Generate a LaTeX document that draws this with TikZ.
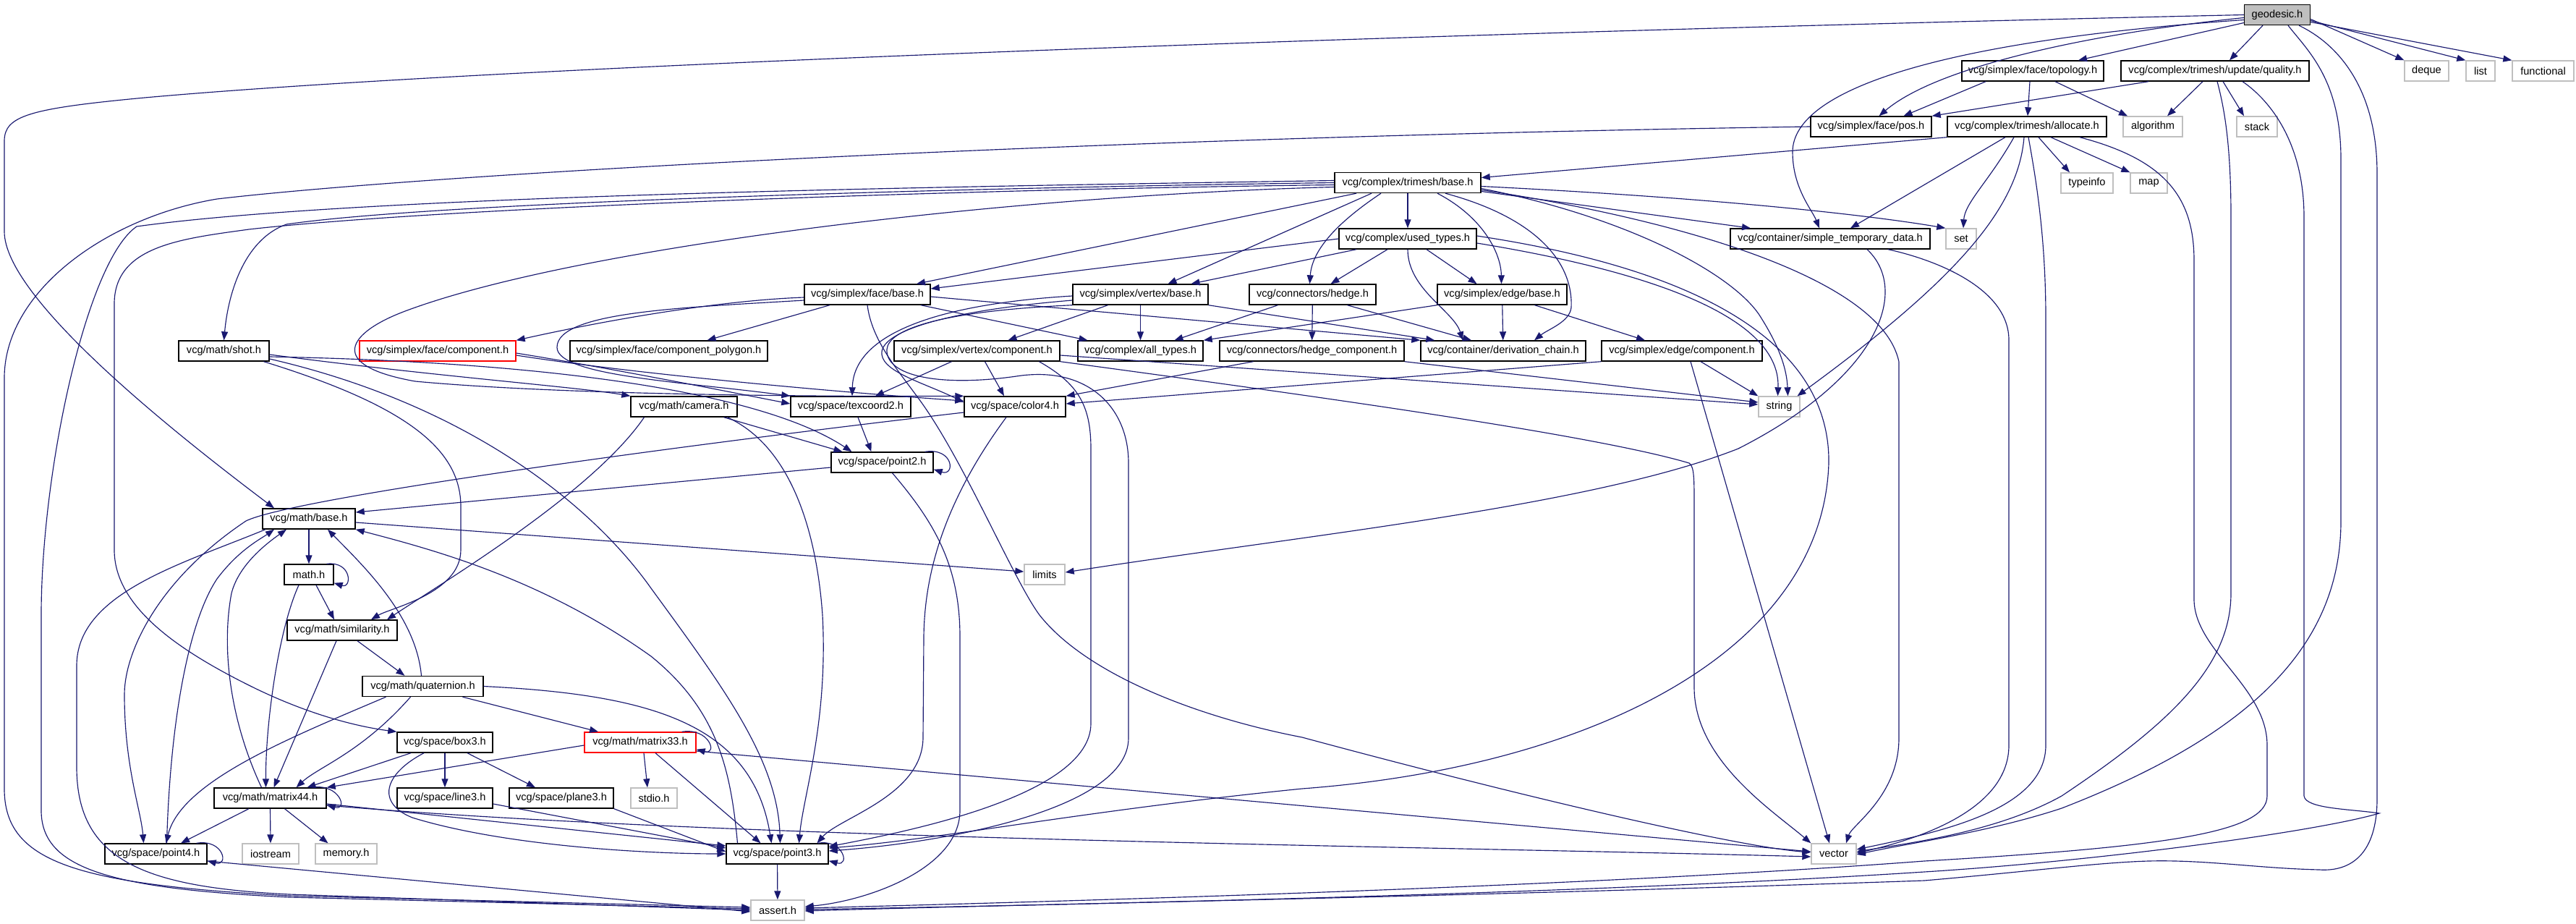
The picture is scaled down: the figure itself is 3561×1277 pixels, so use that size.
\documentclass[tikz,border=0pt]{standalone}
\usepackage{fontspec}
\setmainfont{Liberation Sans}
\usetikzlibrary{arrows.meta}
\definecolor{edgec}{HTML}{191970}
\definecolor{leafc}{HTML}{BFBFBF}
\begin{document}
\begin{tikzpicture}[x=1pt,y=-1pt,
  nbase/.style={rectangle,minimum height=28pt,inner sep=0pt,line width=1.4pt,fill=white,font=\fontsize{14.6pt}{17pt}\selectfont},
  nb/.style={nbase,draw=black},
  lf/.style={nbase,draw=leafc},
  rd/.style={nbase,draw=red},
  rt/.style={nbase,draw=black,fill=leafc},
  e/.style={draw=edgec,line width=1.15pt,-{Triangle[length=12pt,width=9pt]}}
]
\fill[white] (0,0) rectangle (3561,1277);
\useasboundingbox (0,0) rectangle (3561,1277);

\node[rt,minimum width=91pt] (G) at (3148,20.5) {geodesic.h};
\node[nb,minimum width=196pt] (TOP) at (2810,98) {vcg/simplex/face/topology.h};
\node[nb,minimum width=260pt] (QUA) at (3062,98) {vcg/complex/trimesh/update/quality.h};
\node[lf,minimum width=61pt] (DEQ) at (3354.5,98) {deque};
\node[lf,minimum width=40pt] (LST) at (3429,98) {list};
\node[lf,minimum width=85pt] (FUN) at (3515.5,98) {functional};
\node[nb,minimum width=167pt] (POS) at (2586.5,175) {vcg/simplex/face/pos.h};
\node[nb,minimum width=220pt] (ALL) at (2802,175) {vcg/complex/trimesh/allocate.h};
\node[lf,minimum width=82pt] (ALG) at (2976,175) {algorithm};
\node[lf,minimum width=56pt] (STK) at (3120,175) {stack};
\node[nb,minimum width=202pt] (TB) at (1946,252.5) {vcg/complex/trimesh/base.h};
\node[lf,minimum width=72pt] (TI) at (2885,253) {typeinfo};
\node[lf,minimum width=51pt] (MAP) at (2970.5,253) {map};
\node[nb,minimum width=190pt] (UT) at (1946,330) {vcg/complex/used\_types.h};
\node[nb,minimum width=276pt] (STD) at (2530,330) {vcg/container/simple\_temporary\_data.h};
\node[lf,minimum width=42pt] (SET) at (2711,330) {set};
\node[nb,minimum width=174pt] (FB) at (1199,407) {vcg/simplex/face/base.h};
\node[nb,minimum width=187pt] (VB) at (1576.5,407) {vcg/simplex/vertex/base.h};
\node[nb,minimum width=175pt] (HE) at (1814.5,407) {vcg/connectors/hedge.h};
\node[nb,minimum width=179pt] (EB) at (2076.5,407) {vcg/simplex/edge/base.h};
\node[nb,minimum width=125pt] (SHOT) at (309.5,485) {vcg/math/shot.h};
\node[rd,minimum width=216pt] (FC) at (605,485) {vcg/simplex/face/component.h};
\node[nb,minimum width=273pt] (FCP) at (924.5,485) {vcg/simplex/face/component\_polygon.h};
\node[nb,minimum width=229pt] (VC) at (1350.5,485) {vcg/simplex/vertex/component.h};
\node[nb,minimum width=173pt] (AT) at (1576.5,485) {vcg/complex/all\_types.h};
\node[nb,minimum width=255pt] (HC) at (1813.5,485) {vcg/connectors/hedge\_component.h};
\node[nb,minimum width=228pt] (DC) at (2078,485) {vcg/container/derivation\_chain.h};
\node[nb,minimum width=222pt] (EC) at (2325,485) {vcg/simplex/edge/component.h};
\node[nb,minimum width=147pt] (CAM) at (945.5,562) {vcg/math/camera.h};
\node[nb,minimum width=166pt] (TC) at (1176,562) {vcg/space/texcoord2.h};
\node[nb,minimum width=140pt] (C4) at (1403,562) {vcg/space/color4.h};
\node[lf,minimum width=57pt] (STR) at (2459.5,562) {string};
\node[nb,minimum width=141pt] (P2) at (1219.5,639) {vcg/space/point2.h};
\node[nb,minimum width=128pt] (MB) at (427,717) {vcg/math/base.h};
\node[lf,minimum width=56pt] (LIM) at (1444,794) {limits};
\node[nb,minimum width=68pt] (MH) at (427,794) {math.h};
\node[nb,minimum width=152pt] (SIM) at (473,871) {vcg/math/similarity.h};
\node[nb,minimum width=167pt] (QUAT) at (584.5,948.5) {vcg/math/quaternion.h};
\node[nb,minimum width=132pt] (BOX) at (615,1026) {vcg/space/box3.h};
\node[rd,minimum width=154pt] (M33) at (885,1026) {vcg/math/matrix33.h};
\node[nb,minimum width=155pt] (M44) at (373.5,1103) {vcg/math/matrix44.h};
\node[nb,minimum width=132pt] (L3) at (615,1103) {vcg/space/line3.h};
\node[nb,minimum width=144pt] (PL3) at (776,1103) {vcg/space/plane3.h};
\node[lf,minimum width=64pt] (STDIO) at (904,1103) {stdio.h};
\node[nb,minimum width=141pt] (P4) at (215.5,1180) {vcg/space/point4.h};
\node[lf,minimum width=78pt] (IOS) at (374,1180) {iostream};
\node[lf,minimum width=85pt] (MEM) at (478.5,1180) {memory.h};
\node[nb,minimum width=141pt] (P3) at (1074.5,1180) {vcg/space/point3.h};
\node[lf,minimum width=62pt] (VEC) at (2535,1180) {vector};
\node[lf,minimum width=74pt] (AS) at (1075,1258) {assert.h};

% geodesic.h
\draw[e] (G.west) .. controls (2000,45) and (700,90) .. (200,135) .. controls (40,150) and (6,160) .. (6,195) -- (6,320) .. controls (6,410) and (230,590) .. ([xshift=-48pt]MB.north);
\draw[e] ([yshift=-4pt]G.west) .. controls (2900,45) and (2680,90) .. ([xshift=11pt]POS.north);
\draw[e] ([yshift=-7pt]G.west) .. controls (2700,55) and (2478,120) .. (2478,210) .. controls (2478,260) and (2505,290) .. ([xshift=-15pt]STD.north);
\draw[e] ([yshift=-11pt]G.west) -- ([xshift=63pt]TOP.north);
\draw[e] ([xshift=-20pt]G.south) -- ([xshift=20pt]QUA.north);
\draw[e] ([yshift=-6pt]G.east) -- (DEQ.north west);
\draw[e] ([yshift=-8pt]G.east) -- (LST.north west);
\draw[e] ([yshift=-10pt]G.east) -- (FUN.north west);
\draw[e] ([xshift=15pt]G.south) .. controls (3190,70) and (3236,110) .. (3236,220) -- (3236,720) .. controls (3236,900) and (3100,1020) .. (2850,1117) .. controls (2750,1150) and (2640,1165) .. ([yshift=-1pt]VEC.east);
\draw[e] ([xshift=30pt]G.south) .. controls (3230,60) and (3286,120) .. (3286,240) -- (3286,1104) .. controls (3286,1180) and (3250,1205) .. (3206,1202) .. controls (3120,1200) and (3050,1188) .. (2970,1190) .. controls (2900,1192) and (2800,1205) .. (2660,1217) .. controls (2000,1240) and (1400,1250) .. ([yshift=-1pt]AS.east);

% topology.h
\draw[e] ([xshift=-65pt]TOP.south) -- ([xshift=45pt]POS.north);
\draw[e] ([xshift=-4pt]TOP.south) -- ([xshift=1pt]ALL.north);
\draw[e] ([xshift=31pt]TOP.south) -- ([xshift=-35pt]ALG.north);

% quality.h
\draw[e] ([xshift=-92pt]QUA.south) -- (POS.north east);
\draw[e] ([xshift=-17pt]QUA.south) -- ([xshift=20pt]ALG.north);
\draw[e] ([xshift=11pt]QUA.south) -- ([xshift=-18pt]STK.north);
\draw[e] ([xshift=3pt]QUA.south) .. controls (3075,150) and (3084,200) .. (3084,300) -- (3084,820) .. controls (3084,920) and (3000,1000) .. (2850,1100) .. controls (2760,1150) and (2640,1165) .. ([yshift=3pt]VEC.east);
\draw[e] ([xshift=38pt]QUA.south) .. controls (3140,140) and (3185,200) .. (3185,300) -- (3185,1100) .. controls (3187,1118) and (3250,1118) .. (3289,1124) .. controls (3200,1150) and (2900,1190) .. (2660,1205) .. controls (2200,1235) and (1500,1250) .. ([yshift=1pt]AS.east);

% pos.h
\draw[e] (POS.west) .. controls (1500,190) and (600,240) .. (300,275) .. controls (150,300) and (8,400) .. (6,520) -- (6,1090) .. controls (6,1190) and (100,1222) .. (400,1238) -- ([yshift=4pt]AS.west);

% allocate.h
\draw[e] (ALL.south west) -- ([yshift=7pt]TB.east);
\draw[e] ([xshift=-30pt]ALL.south) -- ([xshift=28pt]STD.north);
\draw[e] ([xshift=-18pt]ALL.south) .. controls (2750,250) and (2716,280) .. ([xshift=3pt]SET.north);
\draw[e] ([xshift=-4pt]ALL.south) .. controls (2790,290) and (2700,390) .. ([xshift=25pt]STR.north);
\draw[e] ([xshift=2pt]ALL.south) .. controls (2815,250) and (2828,330) .. (2828,440) -- (2828,1030) .. controls (2828,1120) and (2680,1150) .. ([yshift=6pt]VEC.east);
\draw[e] ([xshift=16pt]ALL.south) -- ([xshift=-24pt]TI.north);
\draw[e] ([xshift=33pt]ALL.south) -- (MAP.north west);
\draw[e] ([xshift=73pt]ALL.south) .. controls (2990,220) and (3033,270) .. (3033,360) -- (3033,830) .. controls (3035,900) and (3134,950) .. (3134,1030) -- (3134,1100) .. controls (3134,1150) and (3000,1170) .. (2660,1190) .. controls (2200,1225) and (1500,1245) .. ([yshift=3pt]AS.east);

% trimesh/base.h
\draw[e] (TB) -- (UT);
\draw[e] ([xshift=-37pt]TB.south) .. controls (1860,300) and (1814,340) .. ([xshift=-4pt]HE.north);
\draw[e] ([xshift=41pt]TB.south) .. controls (2050,300) and (2075,350) .. ([xshift=-1pt]EB.north);
\draw[e] ([yshift=-12pt]TB.east) -- ([xshift=-110pt]STD.north);
\draw[e] ([yshift=-5pt]TB.east) .. controls (2400,275) and (2600,300) .. (SET.north west);
\draw[e] ([xshift=52pt]TB.south) .. controls (2120,300) and (2175,360) .. (2172,425) .. controls (2170,445) and (2140,455) .. ([xshift=43pt]DC.north);
\draw[e] ([yshift=-8pt]TB.east) .. controls (2250,300) and (2400,380) .. (2435,440) .. controls (2460,480) and (2470,510) .. ([xshift=12pt]STR.north);
\draw[e] ([yshift=-10pt]TB.east) .. controls (2300,300) and (2600,380) .. (2625,500) -- (2625,1020) .. controls (2625,1100) and (2560,1140) .. ([xshift=17pt]VEC.north);
\draw[e] ([xshift=-71pt]TB.south) -- ([xshift=68pt]FB.north);
\draw[e] ([xshift=-50pt]TB.south) -- ([xshift=38pt]VB.north);
\draw[e] (TB.west) .. controls (1300,260) and (600,280) .. (396,310) .. controls (340,330) and (316,400) .. (SHOT.north);
\draw[e] ([yshift=-3pt]TB.west) .. controls (1300,262) and (600,288) .. (344,317) .. controls (250,330) and (158,340) .. (158,420) -- (158,760) .. controls (158,840) and (250,900) .. (344,947) .. controls (430,990) and (500,1005) .. (BOX.north west);
\draw[e] ([yshift=3pt]TB.west) .. controls (1300,258) and (500,270) .. (189,313) .. controls (120,360) and (57,650) .. (57,850) -- (57,1120) .. controls (57,1200) and (150,1228) .. (400,1240) -- ([yshift=2pt]AS.west);
\draw[e] ([yshift=-6pt]TB.west) .. controls (1400,270) and (800,340) .. (560,430) .. controls (480,460) and (450,505) .. (574,527) .. controls (800,548) and (1200,548) .. (C4.north west);

% used_types.h
\draw[e] (UT.west) -- ([yshift=8pt]FB.east);
\draw[e] ([xshift=-71pt]UT.south) -- ([xshift=70pt]VB.north);
\draw[e] ([xshift=-28pt]UT.south) -- ([xshift=25pt]HE.north);
\draw[e] ([xshift=26pt]UT.south) -- ([xshift=-35pt]EB.north);
\draw[e] (UT.south) .. controls (1946,400) and (2010,430) .. ([xshift=-56pt]DC.north);
\draw[e] ([yshift=-6pt]UT.east) .. controls (2250,370) and (2462,430) .. ([xshift=-2pt]STR.north);
\draw[e] ([yshift=4pt]UT.east) .. controls (2400,380) and (2530,500) .. (2528,640) .. controls (2520,900) and (2200,1060) .. (1800,1090) .. controls (1500,1120) and (1300,1160) .. ([yshift=8pt]P3.east);

% simple_temporary_data.h
\draw[e] ([xshift=80pt]STD.south) .. controls (2680,360) and (2777,400) .. (2777,470) -- (2777,1030) .. controls (2777,1120) and (2650,1160) .. ([yshift=1pt]VEC.east);
\draw[e] ([xshift=51pt]STD.south) .. controls (2640,400) and (2600,520) .. (2403,620) .. controls (2200,700) and (1800,740) .. ([yshift=3pt]LIM.east);

% face/base.h
\draw[e] ([yshift=-4pt]FB.west) .. controls (1000,415) and (850,440) .. (FC.north east);
\draw[e] ([xshift=-52pt]FB.south) -- ([xshift=53pt]FCP.north);
\draw[e] ([xshift=74pt]FB.south) -- ([xshift=-73pt]AT.north);
\draw[e] ([yshift=-3pt]FB.east) -- (DC.north west);
\draw[e] ([yshift=-8pt]FB.west) .. controls (950,425) and (770,430) .. (770,480) .. controls (770,520) and (950,528) .. (TC.north west);
\draw[e] (FB.south) .. controls (1205,470) and (1240,510) .. (1267,547) .. controls (1330,630) and (1400,800) .. (1437,850) .. controls (1500,930) and (1650,990) .. (1800,1019) .. controls (2100,1100) and (2400,1170) .. ([yshift=2pt]VEC.west);

% face/component.h
\draw[e] ([yshift=-3pt]FC.east) .. controls (850,510) and (1000,540) .. ([yshift=4pt]TC.west);
\draw[e] ([yshift=-6pt]FC.east) .. controls (900,520) and (1200,545) .. ([yshift=8pt]C4.west);

% vertex/base.h
\draw[e] ([xshift=-45pt]VB.south) -- ([xshift=43pt]VC.north);
\draw[e] (VB) -- (AT);
\draw[e] (VB.south east) -- ([xshift=20pt]DC.north west);
\draw[e] ([yshift=-2pt]VB.west) .. controls (1300,420) and (1180,460) .. ([xshift=2pt]TC.north);
\draw[e] ([yshift=-8pt]VB.west) .. controls (1300,430) and (1215,460) .. (1219,490) .. controls (1222,515) and (1280,530) .. ([yshift=6pt]C4.west);
\draw[e] (VB.south west) .. controls (1300,430) and (1228,455) .. (1226,483) .. controls (1224,520) and (1300,535) .. (1405,520) .. controls (1500,505) and (1560,560) .. (1560,640) -- (1560,1020) .. controls (1560,1120) and (1300,1165) .. ([yshift=4pt]P3.east);

% hedge.h, edge/base.h
\draw[e] (HE) -- (HC);
\draw[e] ([xshift=-48pt]HE.south) -- ([xshift=47pt]AT.north);
\draw[e] ([xshift=48pt]HE.south) -- ([xshift=-44pt]DC.north);
\draw[e] (EB) -- (DC);
\draw[e] (EB.south west) -- (AT.north east);
\draw[e] ([xshift=45pt]EB.south) -- ([xshift=-51pt]EC.north);

% vertex/component.h
\draw[e] ([xshift=-35pt]VC.south) -- ([xshift=34pt]TC.north);
\draw[e] ([xshift=11pt]VC.south) -- ([xshift=-15pt]C4.north);
\draw[e] ([yshift=-6pt]VC.east) -- ([yshift=3pt]STR.west);
\draw[e] (VC.south east) .. controls (1800,545) and (2200,600) .. (2335,640) .. controls (2342,645) and (2342,660) .. (2342,700) -- (2342,950) .. controls (2342,1050) and (2450,1120) .. (VEC.north west);
\draw[e] ([xshift=86pt]VC.south) .. controls (1490,530) and (1508,560) .. (1508,620) -- (1508,1000) .. controls (1508,1100) and (1250,1150) .. ([yshift=10pt]P3.east);

% hedge_component.h, edge/component.h
\draw[e] ([xshift=-81pt]HC.south) -- (C4.north east);
\draw[e] (HC.south east) -- ([yshift=6pt]STR.west);
\draw[e] (EC.south west) -- ([yshift=4pt]C4.east);
\draw[e] ([xshift=26pt]EC.south) -- (STR.north west);
\draw[e] ([xshift=12pt]EC.south) -- ([xshift=-6pt]VEC.north);

% shot.h
\draw[e] ([yshift=-5pt]SHOT.east) .. controls (600,520) and (800,535) .. (CAM.north west);
\draw[e] ([yshift=-8pt]SHOT.east) .. controls (750,500) and (1050,540) .. ([xshift=-42pt]P2.north);
\draw[e] ([yshift=-11pt]SHOT.east) .. controls (650,560) and (820,700) .. (900,813) .. controls (1000,950) and (1075,1050) .. ([xshift=4pt]P3.north);
\draw[e] ([xshift=55pt]SHOT.south) .. controls (560,560) and (637,620) .. (637,700) -- (637,760) .. controls (637,820) and (540,840) .. ([xshift=40pt]SIM.north);

% camera.h
\draw[e] ([xshift=-55pt]CAM.south) .. controls (820,680) and (620,800) .. ([xshift=62pt]SIM.north);
\draw[e] ([xshift=55pt]CAM.south) -- ([xshift=-55pt]P2.north);
\draw[e] ([xshift=60pt]CAM.south) .. controls (1100,620) and (1130,750) .. (1137,850) .. controls (1145,1000) and (1110,1100) .. ([xshift=30pt]P3.north);

% texcoord2.h, color4.h
\draw[e] ([xshift=10pt]TC.south) -- ([xshift=-15pt]P2.north);
\draw[e] ([xshift=-12pt]C4.south) .. controls (1300,700) and (1278,800) .. (1277,880) -- (1276,1020) .. controls (1275,1100) and (1160,1130) .. ([xshift=55pt]P3.north);
\draw[e] ([yshift=-8pt]C4.west) .. controls (900,620) and (400,690) .. (340,720) .. controls (220,800) and (172,900) .. (172,960) .. controls (172,1060) and (195,1120) .. ([xshift=-17pt]P4.north);

% point2.h
\draw[e] ([yshift=-7pt]P2.west) -- ([yshift=9pt]MB.east);
\draw[e] ([xshift=14pt]P2.south) .. controls (1290,720) and (1327,780) .. (1327,880) -- (1327,1120) .. controls (1327,1200) and (1200,1245) .. ([yshift=5pt]AS.east);
\draw[e] ([xshift=-12pt]P2.north east) .. controls +(40,-6) and +(30,10) .. ([yshift=5pt]P2.south east);

% math/base.h, math.h
\draw[e] (MB) -- (MH);
\draw[e] ([yshift=-5pt]MB.east) -- ([yshift=4pt]LIM.west);
\draw[e] ([xshift=-60pt]MB.south) .. controls (250,780) and (106,820) .. (106,920) -- (106,1060) .. controls (106,1190) and (200,1226) .. (400,1236) -- (AS.west);
\draw[e] ([xshift=-10pt]MH.north east) .. controls +(35,-4) and +(25,8) .. ([yshift=3pt]MH.south east);
\draw[e] ([xshift=10pt]MH.south) -- ([xshift=-11pt]SIM.north);
\draw[e] ([xshift=-14pt]MH.south) .. controls (385,870) and (367,1000) .. ([xshift=-6pt]M44.north);

% similarity.h, quaternion.h
\draw[e] ([xshift=21pt]SIM.south) -- ([xshift=-25pt]QUAT.north);
\draw[e] ([xshift=-8pt]SIM.south) -- ([xshift=5pt]M44.north);
\draw[e] ([xshift=-2pt]QUAT.north) .. controls (575,850) and (500,780) .. ([xshift=26pt]MB.south);
\draw[e] ([xshift=55pt]QUAT.south) -- ([xshift=-58pt]M33.north);
\draw[e] ([xshift=-17pt]QUAT.south) .. controls (500,1040) and (440,1060) .. ([xshift=36pt]M44.north);
\draw[e] ([xshift=-51pt]QUAT.south) .. controls (400,1020) and (250,1080) .. ([xshift=14pt]P4.north);
\draw[e] (QUAT.east) .. controls (900,960) and (1040,1000) .. ([xshift=-8pt]P3.north);

% box3.h
\draw[e] ([xshift=-47pt]BOX.south) -- ([xshift=51pt]M44.north);
\draw[e] (BOX) -- (L3);
\draw[e] ([xshift=31pt]BOX.south) -- ([xshift=-36pt]PL3.north);
\draw[e] ([xshift=-29pt]BOX.south) .. controls (530,1070) and (520,1110) .. (570,1130) .. controls (700,1170) and (900,1180) .. (P3.west);

% matrix33.h
\draw[e] ([yshift=-4pt]M33.west) -- (M44.north east);
\draw[e] ([xshift=5pt]M33.south) -- ([xshift=-9pt]STDIO.north);
\draw[e] ([xshift=21pt]M33.south) -- ([xshift=-23pt]P3.north);
\draw[e] ([yshift=-12pt]M33.east) -- ([yshift=3pt]VEC.west);
\draw[e] ([xshift=-20pt]M33.north east) .. controls +(38,-6) and +(30,8) .. ([yshift=5pt]M33.south east);

% matrix44.h
\draw[e] ([xshift=-29.5pt]M44.south) -- ([xshift=34.5pt]P4.north);
\draw[e] (M44.south) -- (IOS.north);
\draw[e] ([xshift=20pt]M44.south) -- ([xshift=-25pt]MEM.north);
\draw[e] ([xshift=-12pt]M44.north) .. controls (320,1000) and (305,900) .. (320,820) .. controls (330,780) and (370,750) .. ([xshift=-31pt]MB.south);
\draw[e] ([yshift=-8pt]M44.east) -- ([yshift=11pt]P3.west);
\draw[e] ([yshift=-10pt]M44.east) .. controls (1000,1160) and (2000,1170) .. ([yshift=-4pt]VEC.west);
\draw[e] ([xshift=-20pt]M44.north east) .. controls +(38,-6) and +(30,8) .. ([yshift=5pt]M44.south east);

% line3.h, plane3.h
\draw[e] ([yshift=-8pt]L3.east) -- ([yshift=8pt]P3.west);
\draw[e] (PL3.south east) -- ([yshift=3pt]P3.west);

% point4.h
\draw[e] ([xshift=15pt]P4.north) .. controls (235,1000) and (260,860) .. (300,800) .. controls (330,760) and (360,745) .. ([xshift=-48pt]MB.south);
\draw[e] ([yshift=-10pt]P4.east) -- ([yshift=-2pt]AS.west);
\draw[e] ([xshift=-15pt]P4.north east) .. controls +(38,-6) and +(30,8) .. ([yshift=5pt]P4.south east);

% point3.h
\draw[e] (P3) -- (AS);
\draw[e] ([xshift=-55pt]P3.north) .. controls (1010,1060) and (990,980) .. (900,907) .. controls (750,800) and (600,760) .. (MB.south east);
\draw[e] ([xshift=-15pt]P3.north east) .. controls +(35,-6) and +(30,8) .. ([yshift=5pt]P3.south east);
\end{tikzpicture}
\end{document}
